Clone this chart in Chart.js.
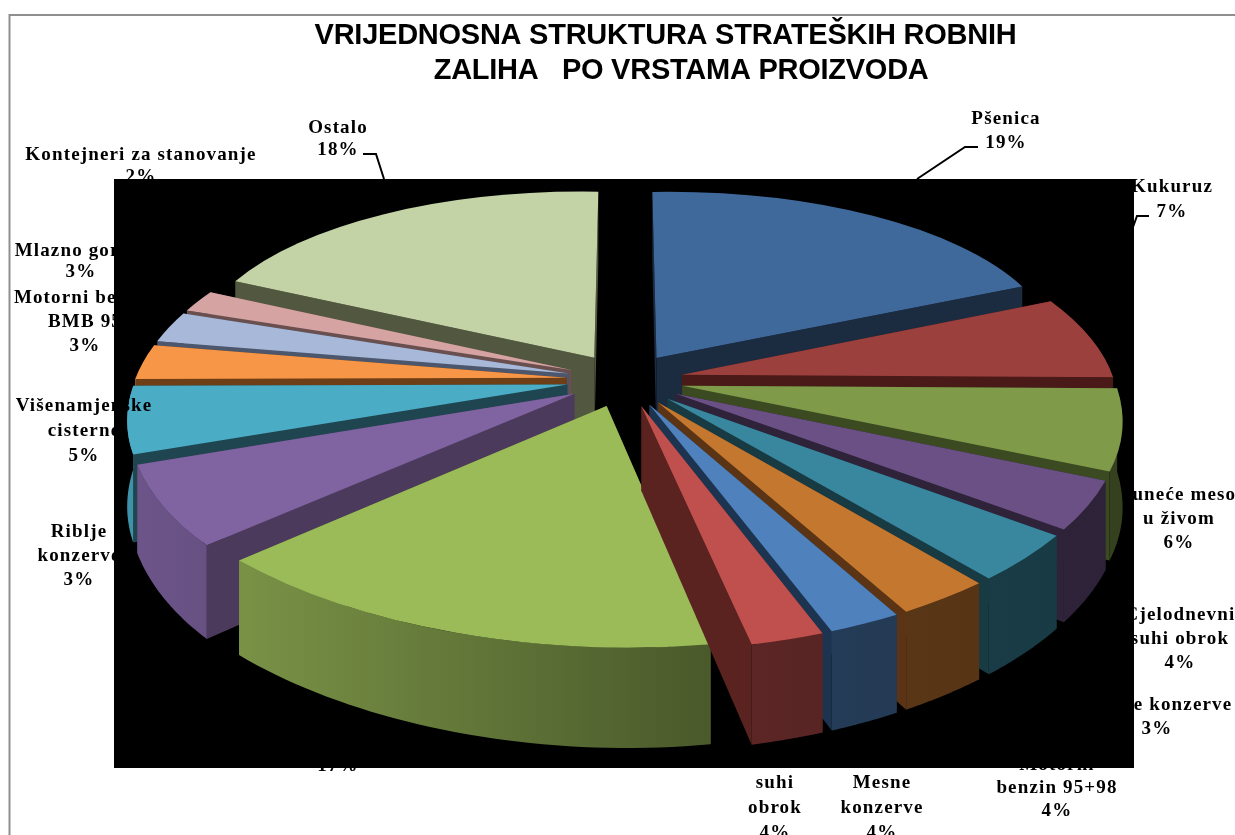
<!DOCTYPE html>
<html>
<head>
<meta charset="utf-8">
<title>Strateške robne zalihe</title>
<script src="https://cdn.jsdelivr.net/npm/chart.js@4"></script>
<style>
    html, body { margin: 0; padding: 0; background: #fff; overflow: hidden; }
    canvas { display: block; }
</style>
</head>
<body>
<canvas id="stockChart" width="1235" height="835"></canvas>
<script>
const titleLines = ['VRIJEDNOSNA STRUKTURA STRATEŠKIH ROBNIH', '    ZALIHA   PO VRSTAMA PROIZVODA'];

// slice sizes as they appear in the pie picture, clockwise from the top
const categories = ['Pšenica', 'Kukuruz', 'Juneće meso u živom', 'Cjelodnevni suhi obrok', 'Konzerve', 'Motorni benzin 95+98',
    'Mesne konzerve', 'Suhi obrok', 'Ostala roba', 'Riblje konzerve', 'Višenamjenske cisterne', 'Motorni benzin BMB 95',
    'Mlazno gorivo', 'Kontejneri za stanovanje', 'Ostalo'];
const sliceShares = [18.5, 6.7, 6.4, 3.8, 3.7, 3.0, 2.3, 2.3, 16.6, 6.3, 5.3, 2.8, 2.5, 1.8, 18];

const topColors = ['#3f689b', '#9c403d', '#7f9a48', '#6a5084', '#39879f', '#c4772f', '#4f81bd', '#c0504d',
    '#9bbb59', '#8064a2', '#4bacc6', '#f79646', '#a7b8d8', '#d6a3a3', '#c3d3a6'];
const sideColors = ['#1b2b40', '#4a1a18', '#3c4a22', '#2f2339', '#183a43', '#5a3415', '#1d3450', '#5a2320',
    '#5c7034', '#4c3a5c', '#1f4650', '#6e3f16', '#4c566c', '#6a4f4f', '#52583f'];

// text blocks printed round the pie: lines, centre x, first baseline
const labelLines = [
    ['Pšenica', '19%'], ['Kukuruz', '7%'], ['Juneće meso', 'u živom', '6%'], ['Cjelodnevni', 'suhi obrok', '4%'],
    ['e konzerve'], ['3%'], ['Motorni', 'benzin 95+98', '4%'], ['Mesne', 'konzerve', '4%'], ['suhi', 'obrok', '4%'], ['17%'],
    ['Riblje', 'konzerve', '3%'], ['Višenamjenske', 'cisterne', '5%'], ['Motorni benzin', 'BMB 95', '3%'],
    ['Mlazno gorivo', '3%'], ['Kontejneri za stanovanje', '2%'], ['Ostalo', '18%']
];
const labelCenters = [1006, 1172, 1179, 1180, 1183, 1157, 1057, 882, 775, 338, 79, 84, 85, 81, 141, 338];
const labelBaselines = [124, 192, 500, 620, 710, 734, 770, 788, 788, 771, 537, 411, 303, 256, 160, 133];
const lineSteps = [24, 25, 24, 24, 24, 24, 23, 25, 25, 24, 24, 25, 24, 21, 22, 22];

// leader lines from the labels towards the pie
const leaderLines = [
    [[978, 147], [965, 147], [917, 179]],
    [[1149, 216], [1137, 216], [1133, 227]],
    [[363, 154], [376, 154], [384, 179]]
];

const pictureBox = { left: 114, top: 179, right: 1134, bottom: 768 };
const pieView = { cx: 625, cy: 380, rx: 432, ry: 198, tilt: 0.154, explode: 0.135, depth: 83 };

function project(u, v) {
    const w = 1 - pieView.tilt * v;
    return { x: pieView.cx + pieView.rx * u / w, y: pieView.cy + pieView.ry * v / w, w };
}

function shade(hex, f) {
    const n = parseInt(hex.slice(1), 16);
    return `rgb(${Math.round((n >> 16) * f)}, ${Math.round(((n >> 8) & 255) * f)}, ${Math.round((n & 255) * f)})`;
}

function rimFill(ctx, color) {
    const g = ctx.createLinearGradient(130, 0, 1120, 0);
    g.addColorStop(0, shade(color, 0.85));
    g.addColorStop(0.58, shade(color, 0.48));
    g.addColorStop(1, shade(color, 0.42));
    return g;
}

function drawSlice(ctx, arc, i) {
    const { x, y, startAngle: a1, endAngle: a2, outerRadius: r } = arc.getProps(['x', 'y', 'startAngle', 'endAngle', 'outerRadius']);
    const mid = (a1 + a2) / 2;
    const ou = pieView.explode * Math.cos(mid);
    const ov = pieView.explode * Math.sin(mid);

    const p0 = project(ou, ov);
    const p1 = project(ou + Math.cos(a1), ov + Math.sin(a1));
    const p2 = project(ou + Math.cos(a2), ov + Math.sin(a2));

    // affine map that puts the library's circular arc on the three projected corners
    const det = r * Math.sin(a2 - a1);
    const m11 = ((p1.x - p0.x) * Math.sin(a2) - (p2.x - p0.x) * Math.sin(a1)) / det;
    const m12 = ((p2.x - p0.x) * Math.cos(a1) - (p1.x - p0.x) * Math.cos(a2)) / det;
    const m21 = ((p1.y - p0.y) * Math.sin(a2) - (p2.y - p0.y) * Math.sin(a1)) / det;
    const m22 = ((p2.y - p0.y) * Math.cos(a1) - (p1.y - p0.y) * Math.cos(a2)) / det;

    const drop = w => pieView.depth / w;
    const rimPoint = a => ({
        x: p0.x + r * (m11 * Math.cos(a) + m12 * Math.sin(a)),
        y: p0.y + r * (m21 * Math.cos(a) + m22 * Math.sin(a))
    });

    // radial walls
    ctx.fillStyle = sideColors[i];
    [p1, p2].forEach(p => {
        ctx.beginPath();
        ctx.moveTo(p0.x, p0.y);
        ctx.lineTo(p.x, p.y);
        ctx.lineTo(p.x, p.y + drop(p.w));
        ctx.lineTo(p0.x, p0.y + drop(p0.w));
        ctx.closePath();
        ctx.fill();
    });

    // outer wall, only the part that faces the viewer
    const lo = Math.max(a1, 0);
    const hi = Math.min(a2, Math.PI);
    if (hi > lo) {
        const steps = 40;
        ctx.beginPath();
        for (let s = 0; s <= steps; s++) {
            const pt = rimPoint(lo + (hi - lo) * s / steps);
            ctx.lineTo(pt.x, pt.y);
        }
        for (let s = steps; s >= 0; s--) {
            const a = lo + (hi - lo) * s / steps;
            const pt = rimPoint(a);
            ctx.lineTo(pt.x, pt.y + drop(project(ou + Math.cos(a), ov + Math.sin(a)).w));
        }
        ctx.closePath();
        ctx.fillStyle = rimFill(ctx, topColors[i]);
        ctx.fill();
    }

    // top face, drawn by the arc element itself
    ctx.save();
    ctx.setTransform(m11, m21, m12, m22, p0.x - m11 * x - m12 * y, p0.y - m21 * x - m22 * y);
    arc.draw(ctx);
    ctx.restore();
}

const pie3dPlugin = {
    id: 'pie3d',
    beforeDraw(chart) {
        const { ctx, width, height } = chart;
        ctx.save();
        ctx.fillStyle = '#fff';
        ctx.fillRect(0, 0, width, height);
        ctx.strokeStyle = '#8f8f8f';
        ctx.lineWidth = 2;
        ctx.beginPath();
        ctx.moveTo(9.5, height);
        ctx.lineTo(9.5, 15);
        ctx.lineTo(width, 15);
        ctx.stroke();
        ctx.restore();
        ctx.letterSpacing = '-0.25px';
    },
    beforeDatasetsDraw(chart) {
        const { ctx } = chart;
        ctx.letterSpacing = '0px';
        ctx.fillStyle = '#000';
        ctx.fillRect(pictureBox.left, pictureBox.top, pictureBox.right - pictureBox.left, pictureBox.bottom - pictureBox.top);

        const arcs = chart.getDatasetMeta(0).data;
        const order = arcs.map((arc, i) => i).sort((a, b) => {
            const midA = (arcs[a].startAngle + arcs[a].endAngle) / 2;
            const midB = (arcs[b].startAngle + arcs[b].endAngle) / 2;
            return Math.sin(midA) - Math.sin(midB);
        });
        order.forEach(i => drawSlice(ctx, arcs[i], i));
        return false;
    },
    afterDraw(chart) {
        const { ctx } = chart;
        ctx.save();
        ctx.strokeStyle = '#000';
        ctx.lineWidth = 2;
        leaderLines.forEach(line => {
            ctx.beginPath();
            line.forEach(([x, y]) => ctx.lineTo(x, y));
            ctx.stroke();
        });

        ctx.fillStyle = '#000';
        ctx.font = 'bold 19px "Liberation Serif"';
        ctx.letterSpacing = '1.15px';
        ctx.textAlign = 'center';
        labelLines.forEach((lines, i) => {
            lines.forEach((text, n) => {
                ctx.fillText(text, labelCenters[i], labelBaselines[i] + n * lineSteps[i]);
            });
        });
        ctx.restore();
    }
};

new Chart(document.getElementById('stockChart'), {
    type: 'pie',
    data: {
        labels: categories,
        datasets: [{
            data: sliceShares,
            backgroundColor: topColors,
            borderWidth: 0
        }]
    },
    options: {
        responsive: false,
        animation: false,
        layout: { padding: { left: 96 } },
        plugins: {
            legend: { display: false },
            tooltip: { enabled: false },
            title: {
                display: true,
                text: titleLines,
                fullSize: false,
                color: '#000',
                font: { family: '"Liberation Sans"', size: 29, weight: 'bold', lineHeight: 1.22 },
                padding: { top: 18, bottom: 10 }
            }
        }
    },
    plugins: [pie3dPlugin]
});
</script>
</body>
</html>
